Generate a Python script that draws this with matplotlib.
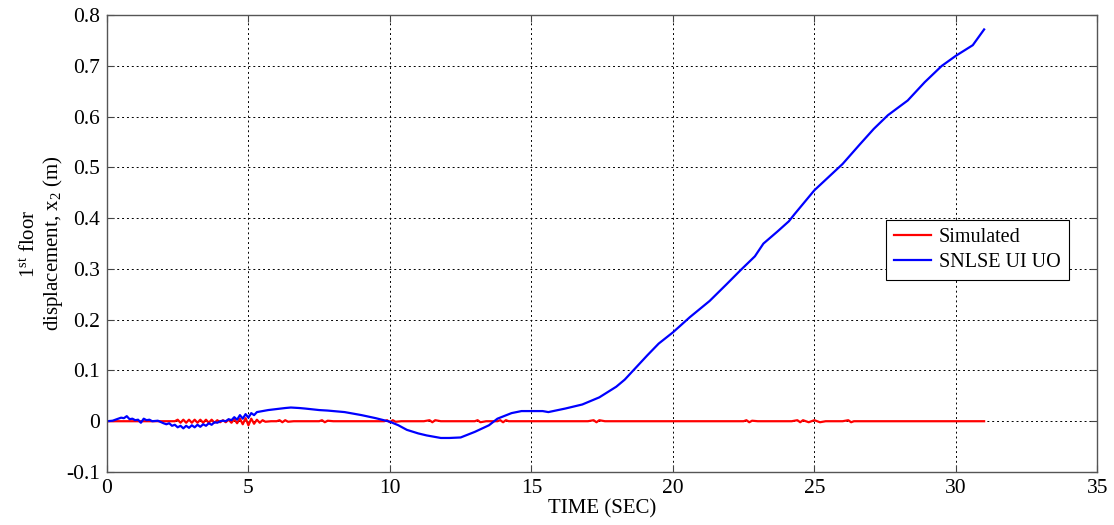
import numpy as np
import matplotlib
matplotlib.use("Agg")
import matplotlib.pyplot as plt

plt.rcParams['font.family'] = ['Liberation Serif', 'DejaVu Serif']
plt.rcParams['mathtext.fontset'] = 'custom'
plt.rcParams['mathtext.rm'] = 'Liberation Serif'
plt.rcParams['mathtext.it'] = 'Liberation Serif:italic'

# Simulated (red)
sim_t = [0.0, 1.0, 2.0, 2.4,
         2.5, 2.6, 2.7, 2.8, 2.9, 3.0, 3.1, 3.2, 3.3, 3.4, 3.5, 3.6, 3.7, 3.8, 3.9,
         4.0, 4.1, 4.2, 4.3, 4.4, 4.5, 4.6, 4.7, 4.8, 4.9, 5.0, 5.1, 5.2, 5.3, 5.4,
         5.5, 5.6, 5.8, 6.0, 6.1, 6.2, 6.3, 6.4, 6.6, 7.0, 7.5, 7.6, 7.7, 7.8, 8.0,
         9.0, 9.8, 9.9, 10.0, 10.1, 10.2, 10.4, 11.2, 11.4, 11.5, 11.6, 11.8, 12.8,
         13.0, 13.1, 13.2, 13.4, 13.8, 13.9, 14.0, 14.1, 14.2, 15.0, 16.0, 17.0,
         17.2, 17.3, 17.4, 17.6, 19.0, 21.0, 22.0, 22.5, 22.6, 22.7, 22.8, 23.0,
         24.2, 24.4, 24.5, 24.6, 24.8, 25.0, 25.2, 25.4, 26.0, 26.2, 26.3, 26.4,
         27.0, 29.0, 31.0]
sim_v = [0.0, 0.0, 0.0, 0.0,
         0.003, -0.003, 0.003, -0.003, 0.003, -0.003, 0.003, -0.003, 0.003, -0.003,
         0.003, -0.003, 0.003, -0.003, 0.002,
         -0.002, 0.002, -0.002, 0.003, -0.003, 0.004, -0.004, 0.005, -0.006, 0.006,
         -0.008, 0.005, -0.005, 0.003, -0.003,
         0.002, -0.001, 0.0, 0.0, 0.002, -0.002, 0.002, -0.001, 0.0, 0.0, 0.0, 0.002,
         -0.002, 0.001, 0.0,
         0.0, 0.0, 0.002, -0.002, 0.002, -0.001, 0.0, 0.0, 0.002, -0.002, 0.002,
         0.0, 0.0,
         0.0, 0.002, -0.002, 0.0, 0.0, 0.002, -0.002, 0.002, 0.0, 0.0, 0.0, 0.0,
         0.002, -0.002, 0.002, 0.0, 0.0, 0.0, 0.0, 0.0, 0.002, -0.002, 0.001, 0.0,
         0.0, 0.002, -0.002, 0.002, -0.002, 0.002, -0.002, 0.0, 0.0, 0.002, -0.002,
         0.0, 0.0, 0.0, 0.0]

# SNLSE UI UO (blue)
est_t = [0.0, 0.2, 0.4, 0.5, 0.6, 0.7, 0.8, 0.9, 1.0, 1.1, 1.2, 1.3, 1.4, 1.5,
         1.6, 1.8, 2.0, 2.1, 2.2, 2.3, 2.4, 2.5, 2.6, 2.7, 2.8, 2.9, 3.0, 3.1,
         3.2, 3.3, 3.4, 3.5, 3.6, 3.7, 3.8, 3.9, 4.0, 4.1, 4.2, 4.3, 4.4, 4.5,
         4.6, 4.7, 4.8, 4.9, 5.0, 5.1, 5.2, 5.3, 5.5, 5.7, 6.0, 6.3, 6.5, 6.8,
         7.0, 7.5, 7.8, 8.4, 9.0, 9.5, 10.0, 10.3, 10.6, 11.0, 11.3, 11.6, 11.8,
         12.1, 12.5, 13.0, 13.5, 13.8, 14.3, 14.65, 15.0, 15.4, 15.6, 16.2, 16.8,
         17.4, 18.0, 18.3, 18.6, 19.1, 19.5, 20.0, 20.6, 21.3, 21.9, 22.4, 22.9,
         23.2, 23.7, 24.1, 24.3, 25.0, 26.0, 26.6, 27.1, 27.6, 28.3, 28.9, 29.5,
         30.0, 30.6, 31.0]
est_v = [0.0, 0.001, 0.005, 0.007, 0.006, 0.01, 0.004, 0.005, 0.002, 0.003,
         -0.003, 0.005, 0.002, 0.003, 0.0, 0.001, -0.004, -0.006, -0.004, -0.009,
         -0.007, -0.012, -0.009, -0.014, -0.009, -0.013, -0.008, -0.012, -0.007,
         -0.011, -0.006, -0.009, -0.004, -0.007, -0.002, -0.003, 0.0, 0.001, 0.0,
         0.004, 0.002, 0.008, 0.003, 0.012, 0.005, 0.014, 0.007, 0.016, 0.012,
         0.018, 0.02, 0.022, 0.024, 0.026, 0.027, 0.026, 0.025, 0.022, 0.021,
         0.018, 0.012, 0.006, -0.001, -0.008, -0.017, -0.024, -0.028, -0.031,
         -0.033, -0.033, -0.032, -0.021, -0.008, 0.005, 0.016, 0.02, 0.02, 0.02,
         0.018, 0.025, 0.033, 0.047, 0.068, 0.082, 0.1, 0.13, 0.153, 0.175,
         0.205, 0.237, 0.27, 0.298, 0.325, 0.35, 0.374, 0.394, 0.408, 0.455,
         0.507, 0.545, 0.576, 0.603, 0.632, 0.668, 0.7, 0.72, 0.741, 0.772]

xticks = [0, 5, 10, 15, 20, 25, 30, 35]
yticks = [-0.1, 0, 0.1, 0.2, 0.3, 0.4, 0.5, 0.6, 0.7, 0.8]
ytick_labels = ['-0.1', '0', '0.1', '0.2', '0.3', '0.4', '0.5', '0.6', '0.7', '0.8']

fig = plt.figure(figsize=(11.14, 5.25), dpi=100)
ax = fig.add_axes([0.096, 0.101, 0.889, 0.870])

ax.plot(sim_t, sim_v, color='#ff0000', lw=1.6, label='Simulated')
ax.plot(est_t, est_v, color='#0000ff', lw=1.6, label='SNLSE UI UO')

ax.set_xlim(0, 35)
ax.set_ylim(-0.1, 0.8)
ax.set_xticks(xticks)
ax.set_yticks(yticks)
ax.set_yticklabels(ytick_labels)
ax.grid(True, color='black', linestyle=(0, (2, 3)), linewidth=0.7)
ax.tick_params(direction='in', top=True, right=True, labelsize=15.5, length=5,
               color='#444444', pad=5)
for s in ax.spines.values():
    s.set_color('#555555')
    s.set_linewidth(1.0)

ax.set_xlabel('TIME (SEC)', fontsize=15, labelpad=1)
ax.set_ylabel('1$^{\\mathrm{st}}$ floor\ndisplacement, x$_{2}$ (m)', fontsize=15,
              linespacing=1.05, labelpad=1)

leg = ax.legend(loc='center', bbox_to_anchor=(0.879, 0.486), fontsize=14.5,
                fancybox=False, edgecolor='black', framealpha=1,
                handlelength=1.8, borderpad=0.4, labelspacing=0.3,
                handletextpad=0.4)
leg.get_frame().set_linewidth(0.8)

fig.savefig('out.png', dpi=100)
